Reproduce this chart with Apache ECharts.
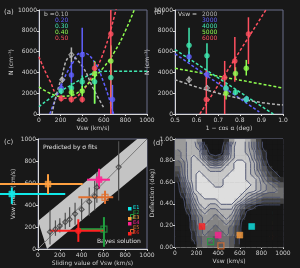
<!DOCTYPE html>
<html>
<head>
<meta charset="utf-8" />
<title>solar wind panels</title>
<script src="https://cdn.jsdelivr.net/npm/echarts@6/dist/echarts.min.js"></script>
<style>
html, body { margin: 0; padding: 0; background: #181818; }
#main { width: 300px; height: 268px; }
</style>
</head>
<body>
<div id="main"></div>
<script type="text/javascript">
// ---- panel (a): dashed model curves
var aV = [0, 100, 200, 300, 400, 500, 600, 700, 800, 900, 1000];
var aRed = [5500, 3200, 1600, 1500, 2200, 3800, 6000, 9500, 14000, null, null];
var aLime = [2600, 2000, 1700, 1800, 2400, 3400, 4500, 6000, 8000, 10500, null];
var aCyan = [700, 1500, 2200, 2800, 3400, 3900, 4100, 4100, 4100, 4100, 4100];
var aBlueV = [100, 200, 300, 400, 500, 600, 690];
var aBlue = [0, 2600, 4700, 5900, 5200, 3000, 0];
var aGreyV = [120, 200, 300, 400, 500, 600];
var aGrey = [0, 3200, 5500, 4600, 2500, 600];
// panel (a) points: [v, value, low, high]
var aPtBlue = [[205, 2500, 2100, 2900], [300, 3750, 3000, 5000], [400, 5700, 3600, 8300], [680, 1400, 0, 2800]];
var aPtCyan = [[205, 2200, 1900, 2500], [300, 2500, 2000, 3000], [400, 3100, 2500, 3700], [515, 3100, 1000, 5000], [665, 3500, 700, 6500]];
var aPtLime = [[300, 2100, 1600, 2600], [400, 2200, 1700, 2700], [515, 3900, 1000, 5100], [665, 5100, 3500, 6600]];
var aPtRed = [[205, 1500, 1200, 1800], [300, 1400, 1100, 1700], [400, 1400, 1100, 1700], [515, 4400, 3800, 5000], [665, 7700, 0, 10000]];
var aPtGrey = [[215, 3300, 3000, 3600], [300, 5700, 5000, 6400]];
var aLegend = ['0.10', '0.20', '0.30', '0.40', '0.50'];

// ---- panel (b)
var bRed = [[0.615, 0], [0.93, 10300]];
var bLime = [[0.5, 4400], [1.0, 2500]];
var bCyan = [[0.5, 6200], [0.955, 0]];
var bBlue = [[0.5, 5800], [0.89, 200]];
var bGrey = [[0.5, 3300], [0.6, 2600], [0.7, 2000], [0.8, 1500], [0.9, 1100], [1.0, 870]];
var bPtCyan = [[0.565, 6600, 5000, 8300], [0.648, 5600, 4000, 6800], [0.736, 2500, 2000, 3000], [0.78, 2100, 1800, 2400], [0.83, 1400, 1100, 1700]];
var bPtBlue = [[0.565, 5500, 5000, 6000], [0.648, 3800, 3400, 4200], [0.736, 2400, 2000, 2800], [0.83, 1400, 1100, 1700]];
var bPtLime = [[0.736, 2000, 1400, 2600], [0.78, 3900, 3300, 4500], [0.83, 4400, 3700, 5200]];
var bPtRed = [[0.645, 1400, 0, 4200], [0.73, 3500, 0, 5100], [0.777, 5100, 3100, 7400], [0.84, 7700, 4800, 9300]];
var bPtGrey = [[0.565, 3300, 3000, 3600], [0.648, 2500, 2200, 2800]];
var bLegend = ['2000', '3000', '4000', '5000', '6000'];

// ---- panel (c): band edges and points
var cBandUpper = [[0, 255], [910, 1000]];
var cBandLower = [[83, 0], [1000, 752]];
var cGrey = [[110, 155, 40, 350], [160, 180, 120, 260], [200, 210, 150, 280], [250, 245, 180, 330], [290, 270, 200, 380],
    [340, 320, 220, 420], [400, 360, 260, 460], [470, 430, 300, 560], [520, 480, 350, 620], [540, 560, 420, 700], [740, 745, 440, 980]];
// [x, y, ylow, yhigh, xlow, xhigh]
var cEvents = [
    [-240, 500, 410, 560, -350, 250],
    [605, 180, 20, 290, 385, 605],
    [92, 590, 500, 680, -350, 410],
    [560, 630, 545, 730, 450, 660],
    [615, 470, 410, 530, 370, 690],
    [370, 165, 65, 270, 110, 600]
];
var evNames = ['E1', 'E2', 'E3', 'E4', 'E5', 'E6'];
var evColors = ['#10e8e8', '#20a040', '#ffa040', '#ff2090', '#e07030', '#ff2020'];

// ---- panel (d): shading (0 dark .. 9 light), rows top to bottom
var dRows = [
    [6,6,7,7,5,0,0,0,0,1,6,8,8,7,5,2,0,0,0,0],
    [6,6,7,7,6,1,0,0,0,2,7,8,8,7,5,2,0,0,0,0],
    [5,6,7,7,7,3,0,0,0,3,7,8,8,7,6,3,1,0,0,0],
    [5,6,7,8,7,5,2,1,2,5,7,8,8,8,6,4,1,0,0,0],
    [4,5,7,8,8,7,5,4,5,7,8,9,9,8,7,5,2,0,0,0],
    [3,5,7,8,8,8,7,7,7,8,8,9,9,8,7,5,3,1,0,0],
    [2,5,7,8,9,8,8,8,8,8,9,9,9,8,7,6,4,2,1,0],
    [1,4,7,8,9,9,8,8,8,9,9,9,9,8,8,7,5,3,2,1],
    [0,3,6,8,9,9,9,8,8,9,9,9,9,9,8,7,6,5,4,3],
    [0,2,5,8,9,9,9,9,9,9,9,9,9,8,8,7,6,5,5,4],
    [0,1,4,7,8,9,9,9,9,9,9,9,8,7,6,5,4,4,4,4],
    [0,0,3,6,8,8,8,8,9,9,9,8,7,5,4,3,2,2,2,2],
    [0,0,2,5,7,8,7,7,8,8,8,6,4,2,1,0,0,0,0,0],
    [0,0,1,4,6,7,6,6,7,7,7,5,2,0,0,0,0,0,0,0],
    [0,0,0,3,5,6,6,5,6,7,6,4,1,0,0,0,0,0,0,0],
    [0,0,0,2,5,6,5,5,5,6,5,3,0,0,0,0,0,0,0,0],
    [0,0,0,2,4,5,5,4,5,5,4,2,0,0,0,0,0,0,0,0],
    [0,0,0,1,4,5,4,4,4,5,4,2,0,0,0,0,0,0,0,0],
    [0,0,0,1,3,4,4,3,4,4,3,1,0,0,0,0,0,0,0,0],
    [0,0,0,0,3,4,3,3,3,4,3,1,0,0,0,0,0,0,0,0]
];
var dLevels = [0.6, 2, 3.4, 4.6, 5.6, 6.6, 7.5, 8.4];
var dEvents = [[710, 0.19], [330, 0.05], [600, 0.11], [400, 0.11], [425, 0.01], [250, 0.19]];

var C = { blue: '#6060ff', cyan: '#40e8b0', lime: '#90ff50', red: '#ff5060', grey: '#b4b4b4' };
var txt = '#cfcfcf';
var font = 'DejaVu Sans';

function zip(xs, ys) {
    var out = [];
    for (var i = 0; i < xs.length; i++) out.push([xs[i], ys[i]]);
    return out;
}
function plain(v) { return String(v); }

function xAx(grid, min, max, interval, name, fmt) {
    return {
        type: 'value', gridIndex: grid, min: min, max: max, interval: interval,
        name: name, nameLocation: 'middle', nameGap: 11,
        nameTextStyle: { color: txt, fontSize: 6, fontFamily: font },
        axisLine: { lineStyle: { color: '#d8d8d8', width: 1 } },
        axisTick: { length: 2, lineStyle: { color: '#d8d8d8' } },
        axisLabel: { color: txt, fontSize: 6, fontFamily: font, margin: 3, formatter: fmt || plain },
        splitLine: { show: false }
    };
}
function yAx(grid, min, max, interval, name, gap, fmt) {
    return {
        type: 'value', gridIndex: grid, min: min, max: max, interval: interval,
        name: name, nameLocation: 'middle', nameGap: gap, nameRotate: 90,
        nameTextStyle: { color: txt, fontSize: 6, fontFamily: font },
        axisLine: { lineStyle: { color: '#d8d8d8', width: 1 } },
        axisTick: { length: 2, lineStyle: { color: '#d8d8d8' } },
        axisLabel: { color: txt, fontSize: 6, fontFamily: font, margin: 2, formatter: fmt || plain },
        splitLine: { show: false }
    };
}

function curve(idx, data, color, smooth) {
    return {
        type: 'line', xAxisIndex: idx, yAxisIndex: idx, data: data, symbol: 'none',
        smooth: smooth, z: 3, silent: true,
        lineStyle: { color: color, width: 1.5, type: [3, 2] }
    };
}

function errBars(idx, data, color, width, clip) {
    return {
        type: 'custom', xAxisIndex: idx, yAxisIndex: idx, data: data, z: 4, silent: true, clip: clip,
        renderItem: function (params, api) {
            var x = api.value(0), y = api.value(1);
            var a = api.coord([x, api.value(2)]), b = api.coord([x, api.value(3)]);
            var kids = [{ type: 'line', shape: { x1: a[0], y1: a[1], x2: b[0], y2: b[1] }, style: { stroke: color, lineWidth: width } }];
            var xl = api.value(4);
            if (xl != null && !isNaN(xl)) {
                var l = api.coord([xl, y]), r = api.coord([api.value(5), y]);
                kids.push({ type: 'line', shape: { x1: l[0], y1: l[1], x2: r[0], y2: r[1] }, style: { stroke: color, lineWidth: width } });
            }
            return { type: 'group', children: kids };
        }
    };
}

function marks(idx, data, color, symbol, size, empty, clip) {
    return {
        type: 'scatter', xAxisIndex: idx, yAxisIndex: idx, data: data, symbol: symbol, symbolSize: size,
        z: 5, silent: true, clip: clip,
        itemStyle: empty ? { color: 'rgba(0,0,0,0)', borderColor: color, borderWidth: 1.2 } : { color: color, borderColor: color, borderWidth: 0.5 }
    };
}

// band polygon for (c)
var cBand = [cBandLower[0], cBandLower[1], [1000, 1000], cBandUpper[1], cBandUpper[0]];

// cells for (d)
var dCells = [];
dRows.forEach(function (row, r) {
    row.forEach(function (v, c) {
        dCells.push([25 + c * 50, 1 - (0.025 + r * 0.05), v]);
    });
});
function dPoint(c, r) { return [25 + c * 50, 1 - (0.025 + r * 0.05)]; }

var series = [];
// (a)
series.push(curve(0, zip(aV, aRed), C.red, true));
series.push(curve(0, zip(aV, aLime), C.lime, true));
series.push(curve(0, zip(aV, aCyan), C.cyan, true));
series.push(curve(0, zip(aBlueV, aBlue), C.blue, true));
series.push(curve(0, zip(aGreyV, aGrey), C.grey, true));
[[aPtGrey, C.grey], [aPtBlue, C.blue], [aPtCyan, C.cyan], [aPtLime, C.lime], [aPtRed, C.red]].forEach(function (s) {
    series.push(errBars(0, s[0], s[1], 1.5, true));
    series.push(marks(0, s[0], s[1], s[1] === C.grey ? 'diamond' : 'circle', 5, s[1] === C.grey, true));
});
// (b)
series.push(curve(1, bRed, C.red, false));
series.push(curve(1, bLime, C.lime, false));
series.push(curve(1, bCyan, C.cyan, false));
series.push(curve(1, bBlue, C.blue, false));
series.push(curve(1, bGrey, C.grey, true));
[[bPtGrey, C.grey], [bPtBlue, C.blue], [bPtCyan, C.cyan], [bPtLime, C.lime], [bPtRed, C.red]].forEach(function (s) {
    series.push(errBars(1, s[0], s[1], 1.5, true));
    series.push(marks(1, s[0], s[1], s[1] === C.grey ? 'diamond' : 'circle', 5, s[1] === C.grey, true));
});
// (c)
series.push({
    type: 'custom', xAxisIndex: 2, yAxisIndex: 2, data: [0], clip: true, silent: true, z: 1,
    renderItem: function (params, api) {
        return { type: 'polygon', shape: { points: cBand.map(function (p) { return api.coord(p); }) }, style: { fill: '#c4c4c4' } };
    }
});
series.push({
    type: 'line', xAxisIndex: 2, yAxisIndex: 2, data: [[0, 0], [1000, 1000]], symbol: 'none', silent: true, z: 2,
    lineStyle: { color: '#7a7a7a', width: 1 }
});
series.push(errBars(2, cGrey, '#505050', 1.2, true));
series.push(marks(2, cGrey, '#404040', 'diamond', 5, true, true));
cEvents.forEach(function (e, i) {
    series.push(errBars(2, [e], evColors[i], 2, false));
    var empty = (i === 1 || i === 4);
    series.push(marks(2, [[e[0], e[1]]], evColors[i], i === 5 ? 'circle' : 'rect', 6, empty, false));
});
// (d) shading
series.push({
    type: 'custom', xAxisIndex: 3, yAxisIndex: 3, data: dCells, silent: true, z: 1,
    renderItem: function (params, api) {
        var p0 = api.coord([api.value(0) - 25, api.value(1) + 0.025]);
        var p1 = api.coord([api.value(0) + 25, api.value(1) - 0.025]);
        var g = Math.round(22 + api.value(2) / 9 * 200);
        return { type: 'rect', shape: { x: p0[0], y: p0[1], width: p1[0] - p0[0] + 0.6, height: p1[1] - p0[1] + 0.6 }, style: { fill: 'rgb(' + g + ',' + g + ',' + g + ')' } };
    }
});
// (d) contour lines traced over the same grid
series.push({
    type: 'custom', xAxisIndex: 3, yAxisIndex: 3, data: [0], silent: true, clip: true, z: 2,
    renderItem: function (params, api) {
        var kids = [];
        var nr = dRows.length, nc = dRows[0].length;
        dLevels.forEach(function (lv) {
            for (var r = 0; r < nr - 1; r++) {
                for (var c = 0; c < nc - 1; c++) {
                    var v = [dRows[r][c], dRows[r][c + 1], dRows[r + 1][c + 1], dRows[r + 1][c]];
                    var pos = [[c, r], [c + 1, r], [c + 1, r + 1], [c, r + 1]];
                    var pts = [];
                    for (var k = 0; k < 4; k++) {
                        var a = v[k], b = v[(k + 1) % 4];
                        if ((a < lv) !== (b < lv)) {
                            var t = (lv - a) / (b - a);
                            var pa = pos[k], pb = pos[(k + 1) % 4];
                            pts.push(api.coord(dPoint(pa[0] + t * (pb[0] - pa[0]), pa[1] + t * (pb[1] - pa[1]))));
                        }
                    }
                    for (var m = 0; m + 1 < pts.length; m += 2) {
                        kids.push({ type: 'line', shape: { x1: pts[m][0], y1: pts[m][1], x2: pts[m + 1][0], y2: pts[m + 1][1] },
                            style: { stroke: '#4c5270', lineWidth: 0.9 } });
                    }
                }
            }
        });
        return { type: 'group', children: kids };
    }
});
dEvents.forEach(function (e, i) {
    var empty = (i === 1 || i === 4);
    series.push(marks(3, [e], evColors[i], 'rect', 6, empty, false));
});

// legends and panel labels as text
var graphic = [];
function label(x, y, text, color, size) {
    graphic.push({ type: 'text', left: x, top: y, silent: true, style: { text: text, fill: color || txt, fontSize: size || 6, fontFamily: font } });
}
label(4, 9, '(a)', txt, 7);
label(154, 9, '(b)', txt, 7);
label(4, 139, '(c)', txt, 7);
label(153, 140, '(d)', txt, 7);
var legCols = [C.grey, C.blue, C.cyan, C.lime, C.red];
label(44, 11, 'b =', txt);
label(178, 11, 'Vsw =', txt);
aLegend.forEach(function (t, i) {
    label(55, 11 + i * 6, t, legCols[i]);
    label(202, 11 + i * 6, bLegend[i], legCols[i]);
});
label(43, 144, 'Predicted by σ fits', '#e0e0e0');
label(97, 238, 'Bayes solution', '#e0e0e0');
evNames.forEach(function (n, i) {
    var empty = (i === 1 || i === 4);
    graphic.push({ type: 'rect', left: 128, top: 207 + i * 5, shape: { width: 3.5, height: 3.5 },
        style: empty ? { fill: 'none', stroke: evColors[i], lineWidth: 1 } : { fill: evColors[i] } });
    label(133, 205 + i * 5, n, evColors[i], 5);
    graphic.push({ type: 'rect', left: 267, top: 213 + i * 5, shape: { width: 3.5, height: 3.5 },
        style: empty ? { fill: 'none', stroke: evColors[i], lineWidth: 1 } : { fill: evColors[i] } });
    label(272, 211 + i * 5, n, evColors[i], 5);
});

var chart = echarts.init(document.getElementById('main'));
var option = {
    backgroundColor: '#181818',
    animation: false,
    grid: [
        { left: 39, top: 10, width: 108, height: 104, show: true, borderColor: '#6a6f8a', borderWidth: 1 },
        { left: 175, top: 10, width: 108, height: 104, show: true, borderColor: '#6a6f8a', borderWidth: 1 },
        { left: 38, top: 139, width: 109, height: 110, show: true, borderColor: '#6a6f8a', borderWidth: 1 },
        { left: 175, top: 139, width: 108, height: 108, show: true, borderColor: '#6a6f8a', borderWidth: 1 }
    ],
    xAxis: [
        xAx(0, 0, 1000, 200, 'Vsw (km/s)'),
        xAx(1, 0.5, 1.0, 0.1, '1 − cos α (deg)', function (v) { return v.toFixed(1); }),
        xAx(2, 0, 1000, 200, 'Sliding value of Vsw (km/s)'),
        xAx(3, 0, 1000, 200, 'Vsw (km/s)')
    ],
    yAxis: [
        yAx(0, 0, 10000, 2000, 'N (cm⁻³)', 22),
        yAx(1, 0, 10000, 2000, 'N (cm⁻³)', 22),
        yAx(2, 0, 1000, 200, 'Vsw pred. (km/s)', 20),
        yAx(3, 0, 1, 0.2, 'Deflection (deg)', 16, function (v) { return v.toFixed(2); })
    ],
    graphic: graphic,
    series: series
};
chart.setOption(option);
</script>
</body>
</html>
